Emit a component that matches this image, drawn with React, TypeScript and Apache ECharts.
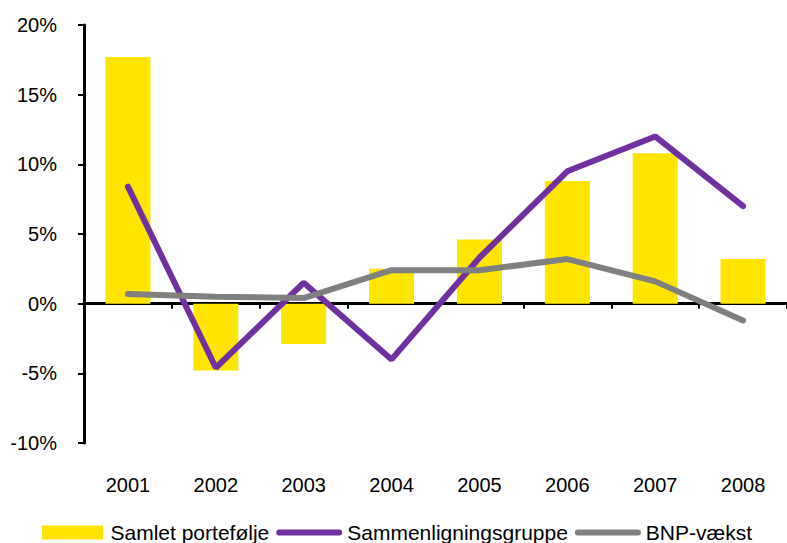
import React, { useEffect, useRef } from "react";
import * as echarts from "echarts";

const categories = ["2001", "2002", "2003", "2004", "2005", "2006", "2007", "2008"];
const samletPortefolje = [17.7, -4.8, -2.9, 2.5, 4.6, 8.8, 10.8, 3.2];
const sammenligningsgruppe = [8.4, -4.6, 1.5, -4.0, 3.3, 9.5, 12.0, 7.0];
const bnpVaekst = [0.7, 0.5, 0.4, 2.4, 2.4, 3.2, 1.6, -1.2];
const yTicks = { min: -10, max: 20, interval: 5 };

const FONT = "'Liberation Sans', Arial, sans-serif";
const LINE_ICON = "path://M3,0 H63 A3,3 0 0 1 63,6 H3 A3,3 0 0 1 3,0 Z";
const RECT_ICON = "path://M0,0 H61 V14 H0 Z";

export default function App() {
  const ref = useRef<HTMLDivElement>(null);
  useEffect(() => {
    if (!ref.current) return;
    const chart = echarts.init(ref.current, undefined, { renderer: "svg" });
    chart.setOption({
      animation: false,
      backgroundColor: "#ffffff",
      textStyle: { fontFamily: FONT },
      grid: { left: 84, width: 706, top: 25, bottom: 100, containLabel: false },
      legend: {
        left: 37,
        top: 517,
        itemGap: 7,
        itemWidth: 66,
        itemHeight: 14,
        symbolKeepAspect: true,
        textStyle: { fontFamily: FONT, fontSize: 21, color: "#000" },
        data: [
          { name: "Samlet portefølje", icon: RECT_ICON },
          { name: "Sammenligningsgruppe", icon: LINE_ICON },
          { name: "BNP-vækst", icon: LINE_ICON },
        ],
      },
      xAxis: [
        {
          type: "category",
          data: categories,
          position: "bottom",
          axisLine: { show: false, onZero: false },
          axisTick: { show: false },
          axisLabel: { fontFamily: FONT, fontSize: 20, color: "#000", margin: 32 },
        },
        {
          type: "category",
          data: categories,
          position: "bottom",
          axisLine: { show: true, onZero: true, lineStyle: { color: "#000", width: 3 } },
          axisTick: { show: true, length: 5, lineStyle: { color: "#000", width: 2 } },
          axisLabel: { show: false },
        },
      ],
      yAxis: {
        type: "value",
        min: yTicks.min,
        max: yTicks.max,
        interval: yTicks.interval,
        splitLine: { show: false },
        axisLine: { show: true, lineStyle: { color: "#000", width: 3 } },
        axisTick: { show: true, length: 6, lineStyle: { color: "#000", width: 2 } },
        axisLabel: {
          formatter: "{value}%",
          fontFamily: FONT,
          fontSize: 20,
          color: "#000",
          margin: 27,
        },
      },
      series: [
        {
          name: "Samlet portefølje",
          type: "bar",
          data: samletPortefolje,
          barWidth: 45,
          itemStyle: { color: "#FFE500" },
        },
        {
          name: "Sammenligningsgruppe",
          type: "line",
          data: sammenligningsgruppe,
          symbol: "none",
          lineStyle: { color: "#7030A0", width: 6, cap: "round" },
          itemStyle: { color: "#7030A0" },
        },
        {
          name: "BNP-vækst",
          type: "line",
          data: bnpVaekst,
          symbol: "none",
          lineStyle: { color: "#808080", width: 6, cap: "round" },
          itemStyle: { color: "#808080" },
        },
      ],
    });
    return () => chart.dispose();
  }, []);
  return <div ref={ref} style={{ width: 787, height: 543, position: "absolute", left: 0, top: 0 }} />;
}
